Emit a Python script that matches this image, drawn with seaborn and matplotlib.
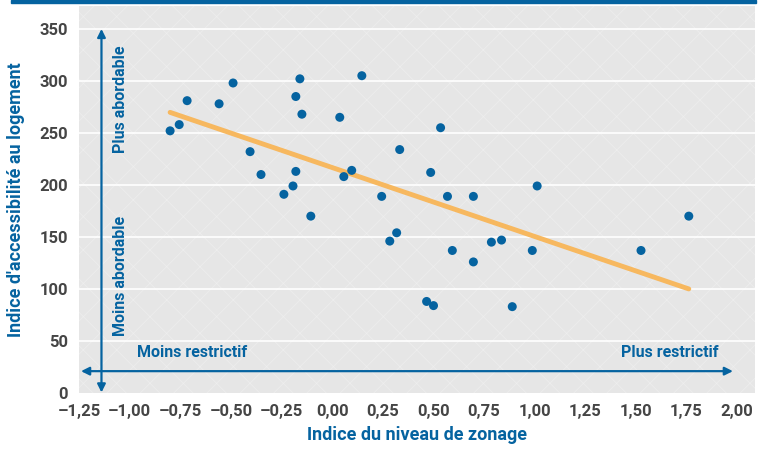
import numpy as np
import pandas as pd
import matplotlib as mpl
import matplotlib.pyplot as plt
import seaborn as sns

# indice du niveau de zonage / indice d'accessibilite
zonage = [-0.80, -0.755, -0.716, -0.558, -0.489, -0.405, -0.351, -0.238, -0.193,
          -0.179, -0.179, -0.159, -0.149, -0.105, 0.038, 0.058, 0.097, 0.147,
          0.245, 0.285, 0.319, 0.334, 0.536, 0.487, 0.570, 0.594, 0.698, 0.698,
          0.787, 0.837, 0.467, 0.501, 0.890, 0.989, 1.013, 1.526, 1.762]
accessibilite = [252, 258, 281, 278, 298, 232, 210, 191, 199,
                 213, 285, 302, 268, 170, 265, 208, 214, 305,
                 189, 146, 154, 234, 255, 212, 189, 137, 189, 126,
                 145, 147, 88, 84, 83, 137, 199, 137, 170]
xticks = [-1.25, -1.0, -0.75, -0.5, -0.25, 0.0, 0.25, 0.5, 0.75, 1.0, 1.25, 1.5, 1.75, 2.0]
yticks = [0, 50, 100, 150, 200, 250, 300, 350]

df = pd.DataFrame({'zonage': zonage, 'acc': accessibilite})

blue = '#0563a0'
orange = '#f7b85f'
grey_txt = '#454545'

sns.set_style('white')
plt.rcParams['font.family'] = ['Roboto', 'DejaVu Sans']
plt.rcParams['hatch.color'] = '#eeeeee'
plt.rcParams['hatch.linewidth'] = 0.5

fig = plt.figure(figsize=(7.65, 4.51), dpi=100)
ax = fig.add_axes([79 / 765, 58 / 451, 676 / 765, 387 / 451])
ax.set_facecolor('#e6e6e6')
ax.patch.set_hatch('x')
ax.patch.set_edgecolor('#eeeeee')

sns.regplot(data=df, x='zonage', y='acc', ax=ax, ci=None, truncate=True,
            scatter_kws=dict(color=blue, s=42, edgecolor='none', zorder=4, alpha=1),
            line_kws=dict(color=orange, lw=3.5, zorder=3))

ax.set_xlim(-1.25, 2.089)
ax.set_ylim(0, 372)
ax.set_xticks(xticks)
ax.set_xticklabels([f'{t:.2f}'.replace('.', ',').replace('-', '\u2013') for t in xticks])
ax.set_yticks(yticks)
for y in yticks[1:]:
    ax.axhline(y, color='white', lw=1.2, zorder=1)
for s in ax.spines.values():
    s.set_visible(False)
ax.tick_params(axis='both', direction='in', color='white', width=2, length=4,
               labelcolor=grey_txt, labelsize=12, pad=8)
for lab in ax.get_xticklabels() + ax.get_yticklabels():
    lab.set_fontweight('bold')

ax.set_xlabel('Indice du niveau de zonage', color=blue, fontsize=13,
              fontweight='bold', labelpad=5)
ax.set_ylabel("Indice d'accessibilité au logement", color=blue, fontsize=13,
              fontweight='bold', labelpad=10)

# direction arrows
ax.annotate('', xy=(-1.139, 350), xytext=(-1.139, 0.5),
            arrowprops=dict(arrowstyle='<|-|>', color=blue, lw=1.6,
                            mutation_scale=12, shrinkA=0, shrinkB=0), zorder=5)
ax.annotate('', xy=(1.98, 21), xytext=(-1.24, 21),
            arrowprops=dict(arrowstyle='<|-|>', color=blue, lw=1.6,
                            mutation_scale=12, shrinkA=0, shrinkB=0), zorder=5)
ax.text(-1.045, 282, 'Plus abordable', rotation=90, color=blue, fontsize=11.5,
        fontweight='bold', ha='center', va='center')
ax.text(-1.045, 113, 'Moins abordable', rotation=90, color=blue, fontsize=11.5,
        fontweight='bold', ha='center', va='center')
ax.text(-0.965, 39, 'Moins restrictif', color=blue, fontsize=11.5,
        fontweight='bold', ha='left', va='center')
ax.text(1.91, 39, 'Plus restrictif', color=blue, fontsize=11.5,
        fontweight='bold', ha='right', va='center')

# top band
fig.patches.append(mpl.patches.Rectangle((11 / 765, 448 / 451), 745 / 765, 3 / 451,
                                         transform=fig.transFigure, color=blue))

fig.savefig('out.png', dpi=100)
